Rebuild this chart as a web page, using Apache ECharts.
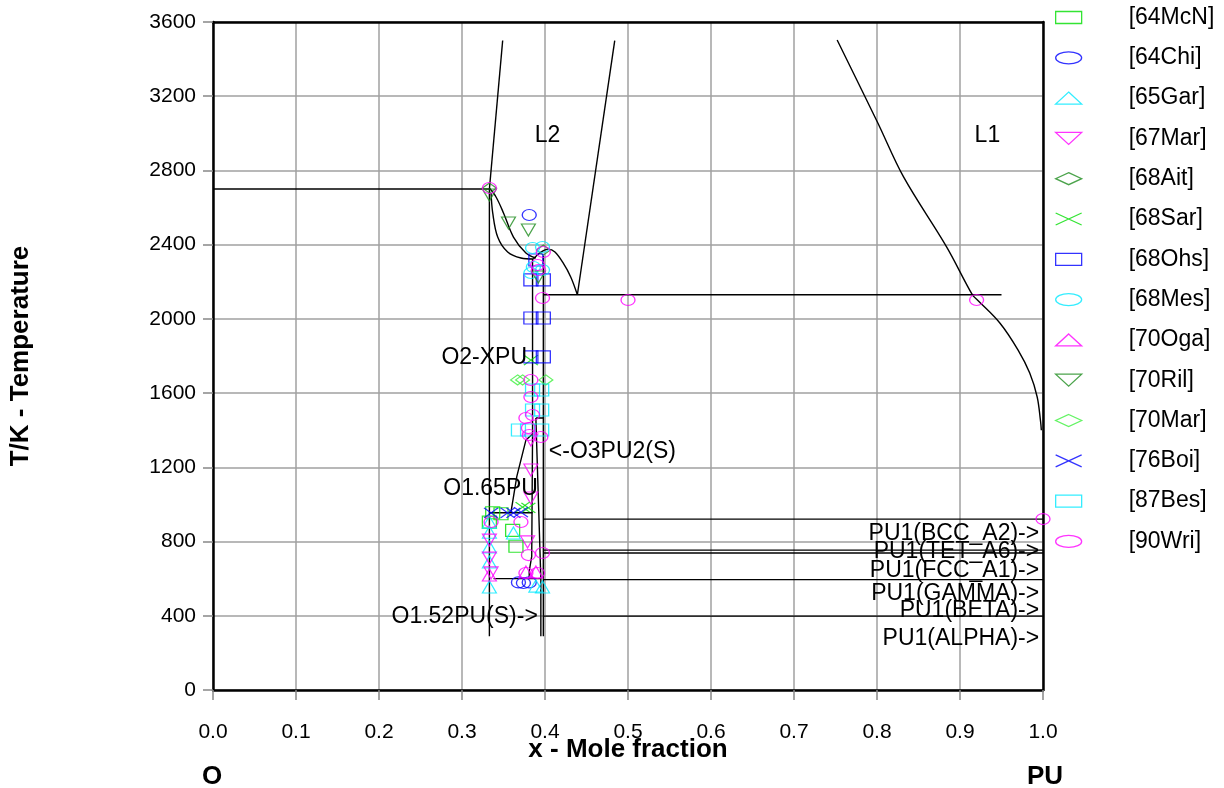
<!DOCTYPE html>
<html><head><meta charset="utf-8">
<script src="https://cdn.jsdelivr.net/npm/echarts@6.0.0/dist/echarts.min.js"></script>
<style>html,body{margin:0;padding:0;background:#fff}#c{width:1224px;height:788px}</style>
</head><body><div id="c"></div>
<script>
// ---- tick labels ----
const xTickLabels = ['0.0','0.1','0.2','0.3','0.4','0.5','0.6','0.7','0.8','0.9','1.0'];
const yTickLabels = ['0','400','800','1200','1600','2000','2400','2800','3200','3600'];

// ---- experimental data sets [x(PU), T/K] ----
const refNames = ['[64McN]','[64Chi]','[65Gar]','[67Mar]','[68Ait]','[68Sar]','[68Ohs]','[68Mes]','[70Oga]','[70Ril]','[70Mar]','[76Boi]','[87Bes]','[90Wri]'];
const ref64McN = [[0.337,955],[0.347,950],[0.361,860],[0.365,775],[0.333,905]];
const ref64Chi = [[0.381,2560],[0.368,580],[0.374,577],[0.381,580]];
const ref65Gar = [[0.333,905],[0.333,850],[0.333,771],[0.333,690],[0.333,555],[0.389,560],[0.397,555],[0.362,846]];
const ref67Mar = [[0.383,1347],[0.383,1186],[0.383,1035],[0.333,808],[0.333,711],[0.335,631],[0.379,798]];
const ref68Ait = [[0.333,2705],[0.398,2371]];
const ref68Sar = [[0.383,1778],[0.373,986],[0.380,981]];
const ref68Ohs = [[0.383,2210],[0.398,2210],[0.383,2005],[0.398,2005],[0.383,1795],[0.398,1795],[0.389,2317]];
const ref68Mes = [[0.385,2382],[0.397,2387],[0.386,2280],[0.397,2263],[0.383,2247]];
const ref70Oga = [[0.333,620],[0.377,636],[0.389,636]];
const ref70Ril = [[0.333,2668],[0.356,2517],[0.380,2479],[0.392,2226]];
const ref70Mar = [[0.367,1671],[0.373,1671],[0.401,1671]];
const ref76Boi = [[0.335,954],[0.355,954],[0.362,954],[0.371,959]];
const ref87Bes = [[0.385,1617],[0.396,1617],[0.385,1509],[0.396,1509],[0.368,1401],[0.379,1401],[0.396,1401]];
const ref90Wri = [[0.333,2705],[0.398,2360],[0.391,2290],[0.392,2263],[0.397,2113],[0.5,2102],[0.92,2102],[1.0,921],
  [0.383,1671],[0.383,1579],[0.385,1482],[0.377,1466],[0.380,1412],[0.381,1374],[0.395,1363],
  [0.335,905],[0.371,905],[0.380,727],[0.397,738],[0.377,631],[0.391,631]];

// ---- calculated phase boundaries [x, T/K] ----
const bLine2700 = [[0,2700],[0.333,2700]];
const bO2Left = [[0.333,2700],[0.333,290]];
const bL2Left = [[0.333,2700],[0.349,3500]];
const bL2Right = [[0.439,2130],[0.484,3500]];
const bMonotectic = [[0.398,2130],[0.95,2130]];
const bL1 = [[0.752,3503],[0.801,3056],[0.832,2765],[0.884,2387],[0.915,2129],[0.921,2102],[0.948,1978],[0.970,1832],[0.984,1708],[0.993,1579],[0.997,1450],[0.998,1400]];
const bL2Outer = [[0.333,2705],[0.341,2657],[0.350,2571],[0.362,2441],[0.377,2355],[0.389,2328]];
const bL2Inner = [[0.335,2678],[0.337,2571],[0.343,2441],[0.355,2360],[0.371,2328],[0.386,2323]];
const bL2Dome = [[0.386,2323],[0.395,2360],[0.404,2376],[0.412,2360],[0.422,2300],[0.431,2226],[0.439,2130]];
const bO2Right = [[0.385,2323],[0.385,1380],[0.384,720],[0.381,640],[0.381,600]];
const bO3Left = [[0.389,1466],[0.395,600],[0.395,290]];
const bO3Top = [[0.389,1466],[0.398,1466]];
const bO3Right = [[0.398,2340],[0.398,290]];
const bO165 = [[0.385,1380],[0.377,1347],[0.366,1150],[0.359,959]];
const bEut955 = [[0.333,955],[0.385,955]];
const bEut600 = [[0.338,600],[0.395,600]];
const bPuBcc = [[0.398,921],[1,921]];
const bPuTet = [[0.398,754],[1,754]];
const bPuFcc = [[0.398,738],[1,738]];
const bPuGamma = [[0.398,595],[1,595]];
const bPuAlpha = [[0.398,398],[1,398]];

// ---- phase labels ----
const labelTexts = ['L2','L1','O2-XPU','<-O3PU2(S)','O1.65PU','O1.52PU(S)->','PU1(BCC_A2)->','PU1(TET_A6)->','PU1(FCC_A1)->','PU1(GAMMA)->','PU1(BETA)->','PU1(ALPHA)->'];
const labelAt = [[0.403,2990],[0.933,2990],[0.379,1790],[0.404,1282],[0.392,1083],[0.392,394],[0.996,840],[0.996,743],[0.996,641],[0.996,518],[0.996,426],[0.996,275]];
const labelAlign = ['center','center','right','left','right','right','right','right','right','right','right','right'];

// ---- styles ----
const SYM = {
  rect: 'path://M0,0H10V10H0Z',
  ellipse: 'path://M0,5C0,2.24 2.24,0 5,0C7.76,0 10,2.24 10,5C10,7.76 7.76,10 5,10C2.24,10 0,7.76 0,5Z',
  tri: 'path://M5,0L10,10L0,10Z',
  itri: 'path://M0,0L10,0L5,10Z',
  diamond: 'path://M5,0L10,5L5,10L0,5Z',
  cross: 'path://M0,0L10,10M10,0L0,10'
};
const GREEN = '#00dd00', BLUE = '#0000ff', CYAN = '#00e8ff', MAG = '#ff00ff', DKGREEN = '#1e8c1e', LTGREEN = '#3cf03c';
const refData = [ref64McN,ref64Chi,ref65Gar,ref67Mar,ref68Ait,ref68Sar,ref68Ohs,ref68Mes,ref70Oga,ref70Ril,ref70Mar,ref76Boi,ref87Bes,ref90Wri];
const refSym = ['rect','ellipse','tri','itri','diamond','cross','rect','ellipse','tri','itri','diamond','cross','rect','ellipse'];
const refCol = [GREEN,BLUE,CYAN,MAG,DKGREEN,GREEN,BLUE,CYAN,MAG,DKGREEN,LTGREEN,BLUE,CYAN,MAG];
const symSize = {rect:[14,12], ellipse:[14,11], tri:[14,12], itri:[14,12], diamond:[14,10], cross:[14,10]};

const FONT = 'Liberation Sans, Arial, sans-serif';
const TXT = '#000';
const boundaries = [bLine2700,bO2Left,bL2Left,bL2Right,bMonotectic,bL1,bL2Outer,bL2Inner,bL2Dome,bO2Right,bO3Left,bO3Top,bO3Right,bO165,bEut955,bEut600,bPuBcc,bPuTet,bPuFcc,bPuGamma,bPuAlpha];
const curved = [bL1,bL2Outer,bL2Inner,bL2Dome];

const series = [];
boundaries.forEach((b, i) => series.push({
  type: 'line', name: 'b' + i, data: b, showSymbol: false, symbol: 'none', silent: true,
  smooth: curved.indexOf(b) >= 0 ? 0.35 : false,
  lineStyle: {color: '#000', width: 1.4}, z: 2
}));
refData.forEach((d, i) => series.push({
  type: 'scatter', name: refNames[i], data: d, symbol: SYM[refSym[i]], symbolSize: symSize[refSym[i]],
  itemStyle: {color: 'rgba(0,0,0,0)', borderColor: refCol[i], borderWidth: 1.2}, z: 3
}));
series.push({
  type: 'scatter', name: 'labels', symbolSize: 1, itemStyle: {color: 'rgba(0,0,0,0)'}, silent: true, z: 4,
  data: labelTexts.map((t, i) => ({
    value: labelAt[i],
    label: {show: true, formatter: t, position: labelAlign[i] === 'center' ? 'inside' : (labelAlign[i] === 'right' ? 'left' : 'right'),
      distance: 0, fontSize: 23, fontFamily: FONT, color: TXT, opacity: 1, textBorderWidth: 0}
  }))
});

const frameAxis = {show: true, onZero: false, lineStyle: {color: '#000', width: 2.5}};
const chart = echarts.init(document.getElementById('c'), null, {renderer: 'canvas'});
chart.setOption({
  animation: false,
  backgroundColor: '#fff',
  grid: {left: 212, top: 22, right: 181, bottom: 98, show: false},
  xAxis: [{
    type: 'value', min: 0, max: 1, interval: 0.1,
    axisLine: frameAxis,
    axisTick: {show: true, length: 10, lineStyle: {color: '#888', width: 1.5}},
    axisLabel: {margin: 32, fontSize: 21, fontFamily: FONT, color: TXT,
      formatter: (v) => xTickLabels[Math.round(v * 10)]},
    splitLine: {show: true, lineStyle: {color: '#a0a0a0', width: 1.5}},
    name: 'x - Mole fraction', nameLocation: 'middle', nameGap: 47, nameMoveOverlap: false,
    nameTextStyle: {fontSize: 26, fontWeight: 'bold', fontFamily: FONT, color: TXT}
  }, {
    type: 'value', min: 0, max: 1, position: 'top', axisLine: frameAxis,
    axisTick: {show: false}, axisLabel: {show: false}, splitLine: {show: false}
  }],
  yAxis: [{
    type: 'value', min: 0, max: 3600, interval: 400,
    axisLine: frameAxis,
    axisTick: {show: true, length: 10, lineStyle: {color: '#888', width: 1.5}},
    axisLabel: {margin: 17, fontSize: 21, fontFamily: FONT, color: TXT,
      formatter: (v) => yTickLabels[Math.round(v / 400)]},
    splitLine: {show: true, lineStyle: {color: '#a0a0a0', width: 1.5}},
    name: 'T/K - Temperature', nameLocation: 'middle', nameGap: 179, nameRotate: 90, nameMoveOverlap: false,
    nameTextStyle: {fontSize: 26, fontWeight: 'bold', fontFamily: FONT, color: TXT}
  }, {
    type: 'value', min: 0, max: 3600, position: 'right', axisLine: frameAxis,
    axisTick: {show: false}, axisLabel: {show: false}, splitLine: {show: false}
  }],
  legend: {
    orient: 'vertical', left: 1055, top: 6, padding: 0, itemGap: 17.3,
    itemWidth: 26, itemHeight: 12, symbolKeepAspect: false,
    formatter: (n) => '{sp| }' + n,
    textStyle: {fontSize: 23, fontFamily: FONT, color: TXT, lineHeight: 22,
      rich: {sp: {width: 42, lineHeight: 22}}},
    data: refNames.map((n, i) => ({name: n, icon: SYM[refSym[i]],
      itemStyle: {color: 'rgba(0,0,0,0)', borderColor: refCol[i], borderWidth: 1.3}}))
  },
  graphic: [
    {type: 'text', x: 212, y: 777, style: {text: 'O', font: 'bold 26px ' + FONT, fill: TXT, textAlign: 'center', textVerticalAlign: 'middle', align: 'center', verticalAlign: 'middle'}},
    {type: 'text', x: 1045, y: 777, style: {text: 'PU', font: 'bold 26px ' + FONT, fill: TXT, textAlign: 'center', textVerticalAlign: 'middle', align: 'center', verticalAlign: 'middle'}}
  ],
  series: series
});
</script>
</body></html>
